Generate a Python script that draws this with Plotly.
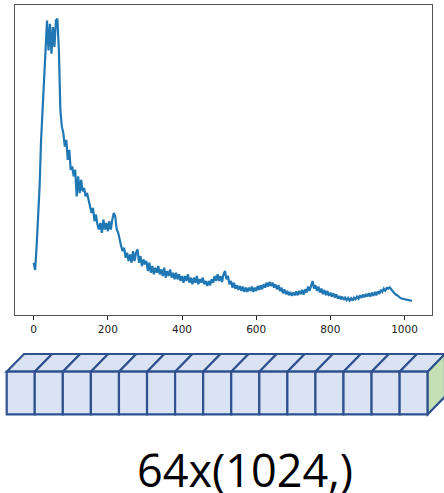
import plotly.graph_objects as go
import numpy as np

# ---- data: one spectrum of 1024 samples (read at every 4th sample) ----
step = 4
intensity = [
115, 93, 165, 245, 345, 485, 575, 675, 785, 845, 755, 835, 745, 825, 765, 845,
850, 755, 575, 525, 505, 465, 485, 425, 455, 395, 405, 375, 395, 315, 375, 325,
365, 330, 340, 315, 325, 300, 285, 265, 280, 240, 260, 230, 215, 235, 205, 245,
215, 235, 210, 240, 215, 245, 265, 255, 215, 205, 180, 165, 150, 160, 130, 145,
120, 140, 115, 150, 120, 145, 155, 115, 135, 105, 125, 110, 120, 90, 115, 85,
105, 80, 100, 85, 105, 80, 95, 75, 100, 70, 90, 75, 95, 70, 85, 65,
85, 65, 80, 60, 75, 55, 75, 60, 80, 55, 70, 50, 70, 55, 75, 50,
65, 55, 70, 50, 60, 45, 60, 47, 65, 55, 75, 60, 80, 60, 75, 57,
80, 90, 65, 75, 50, 60, 40, 55, 37, 47, 33, 45, 30, 43, 27, 40,
27, 40, 30, 43, 27, 40, 30, 45, 33, 47, 35, 50, 40, 55, 43, 57,
45, 55, 40, 50, 35, 47, 30, 40, 23, 35, 20, 30, 17, 27, 15, 25,
17, 29, 17, 30, 20, 33, 19, 35, 25, 43, 30, 47, 60, 37, 47, 30,
43, 25, 37, 20, 33, 17, 30, 15, 25, 13, 23, 10, 20, 7, 15, 5,
13, 3, 10, 2, 9, 1, 8, 1, 10, 5, 13, 7, 17, 9, 19, 11,
21, 13, 23, 13, 25, 15, 27, 17, 29, 21, 33, 27, 37, 31, 39, 37,
41, 35, 29, 25, 19, 17, 12, 10, 7, 6, 4, 4, 2, 2, 1, 0,
]
x_ticks = [0, 200, 400, 600, 800, 1000]
n_samples = 1024
n_blocks = 15
caption = "64x(1024,)"

x = np.arange(len(intensity)) * step
ymin, ymax = min(intensity), max(intensity)
yspan = ymax - ymin
xmax = n_samples - 1

W, H = 444, 493
def px(v):
    return v / W
def py(v):
    return 1 - v / H

fig = go.Figure()
fig.add_trace(go.Scatter(x=x, y=intensity, mode="lines",
                         line=dict(color="#1f77b4", width=2.2),
                         hoverinfo="skip", showlegend=False))

fig.update_layout(
    width=W, height=H,
    margin=dict(l=0, r=0, t=0, b=0),
    paper_bgcolor="white", plot_bgcolor="white",
    xaxis=dict(domain=[px(14.7), px(432)],
               range=[-0.05 * xmax, xmax * 1.05],
               tickvals=x_ticks, ticks="outside", ticklen=4, tickwidth=1,
               tickcolor="#222", showline=True, linecolor="#555", linewidth=1,
               mirror=True, showgrid=False, zeroline=False,
               tickfont=dict(family="DejaVu Sans", size=10.5, color="#222")),
    yaxis=dict(domain=[py(315), py(4.7)],
               range=[ymin - 0.05 * yspan, ymax + 0.05 * yspan],
               showticklabels=False, ticks="", showline=True, linecolor="#555",
               linewidth=1, mirror=True, showgrid=False, zeroline=False),
)

# ---- row of blocks under the plot ----
edge = "#2F528F"
face = "#DAE3F3"
side = "#C5E0B4"
left, right = 6.7, 427.7
top, bottom = 371.7, 414.3
dx, dy = 17.3, -17.7
bw = (right - left) / n_blocks

def path(points):
    return "M " + " L ".join(f"{px(a):.5f},{py(b):.5f}" for a, b in points) + " Z"

shapes = []
for i in range(n_blocks):
    x0 = left + i * bw
    x1 = x0 + bw
    shapes.append(dict(type="path", xref="paper", yref="paper",
                       path=path([(x0, top), (x0 + dx, top + dy), (x1 + dx, top + dy), (x1, top)]),
                       fillcolor=face, line=dict(color=edge, width=2.2)))
for i in range(n_blocks):
    x0 = left + i * bw
    x1 = x0 + bw
    shapes.append(dict(type="path", xref="paper", yref="paper",
                       path=path([(x0, top), (x1, top), (x1, bottom), (x0, bottom)]),
                       fillcolor=face, line=dict(color=edge, width=2.2)))
shapes.append(dict(type="path", xref="paper", yref="paper",
                   path=path([(right, top), (right + dx, top + dy), (right + dx, bottom + dy), (right, bottom)]),
                   fillcolor=side, line=dict(color=edge, width=2.2)))
fig.update_layout(shapes=shapes)

fig.add_annotation(x=px(245), y=py(493), xref="paper", yref="paper",
                   text=caption, showarrow=False, xanchor="center", yanchor="bottom",
                   borderpad=0, yshift=-8,
                   font=dict(family="Open Sans", size=45, color="black"))

fig.write_html("out.html")
